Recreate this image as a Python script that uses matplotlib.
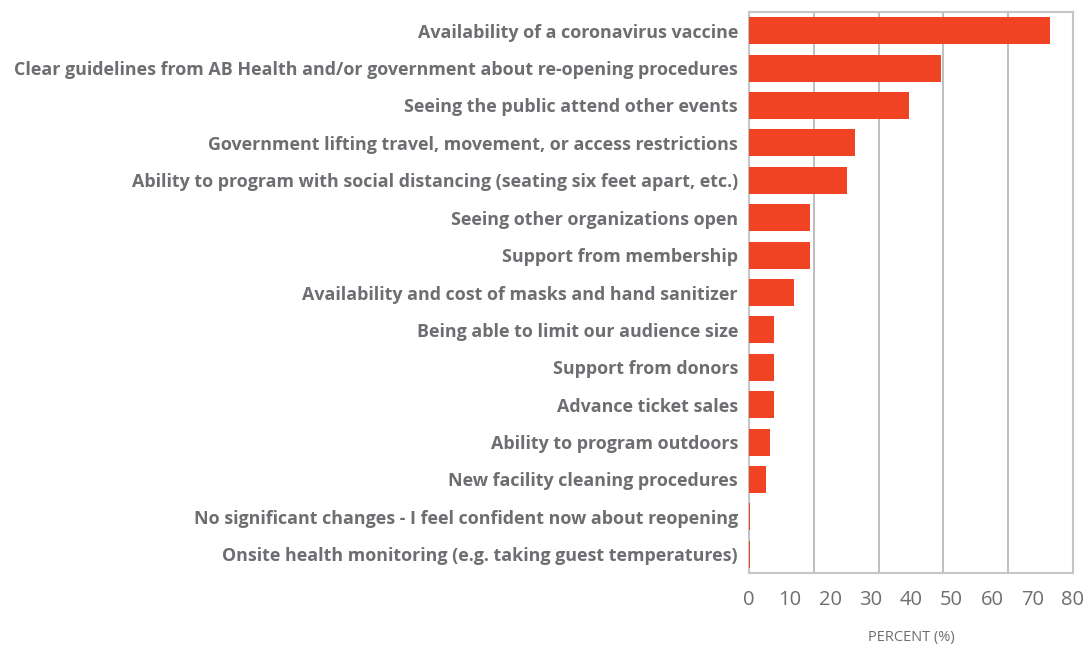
import matplotlib.pyplot as plt
import numpy as np

categories = [
    "Availability of a coronavirus vaccine",
    "Clear guidelines from AB Health and/or government about re-opening procedures",
    "Seeing the public attend other events",
    "Government lifting travel, movement, or access restrictions",
    "Ability to program with social distancing (seating six feet apart, etc.)",
    "Seeing other organizations open",
    "Support from membership",
    "Availability and cost of masks and hand sanitizer",
    "Being able to limit our audience size",
    "Support from donors",
    "Advance ticket sales",
    "Ability to program outdoors",
    "New facility cleaning procedures",
    "No significant changes - I feel confident now about reopening",
    "Onsite health monitoring (e.g. taking guest temperatures)",
]
values = [74.3, 47.3, 39.4, 26.2, 24.3, 15.1, 15.1, 11.1, 6.2, 6.2, 6.2, 5.2, 4.2, 0.15, 0.15]
xticks = [0, 10, 20, 30, 40, 50, 60, 70, 80]
gridlines = [16, 32, 48, 64]

text_color = "#6d6e71"
bar_color = "#ef4323"
grid_color = "#b4b4b4"

fig = plt.figure(figsize=(10.87, 6.5), dpi=100)
ax = fig.add_axes([749 / 1087, 1 - 573 / 650, 324 / 1087, 561 / 650])

y = np.arange(len(categories))
ax.barh(y, values, height=0.72, color=bar_color, zorder=3)
ax.set_ylim(len(categories) - 0.5, -0.5)
ax.set_xlim(0, 80)

for g in gridlines:
    ax.axvline(g, color=grid_color, lw=1.2, zorder=1)

ax.set_yticks(y)
ax.set_yticklabels(categories, fontsize=12.9, fontweight="bold",
                   family="Open Sans", color=text_color)
ax.set_xticks(xticks)
ax.set_xticklabels([str(t) for t in xticks], fontsize=14.5, family="Open Sans",
                   color=text_color)
ax.tick_params(axis="both", length=0)
ax.tick_params(axis="y", pad=8)
ax.tick_params(axis="x", pad=12)
ax.set_xlabel("PERCENT (%)", fontsize=10.5, family="Open Sans",
              color=text_color, labelpad=15)

for s in ax.spines.values():
    s.set_color("#c6c6c6")
    s.set_linewidth(1.5)

fig.savefig("out.png", dpi=100)
